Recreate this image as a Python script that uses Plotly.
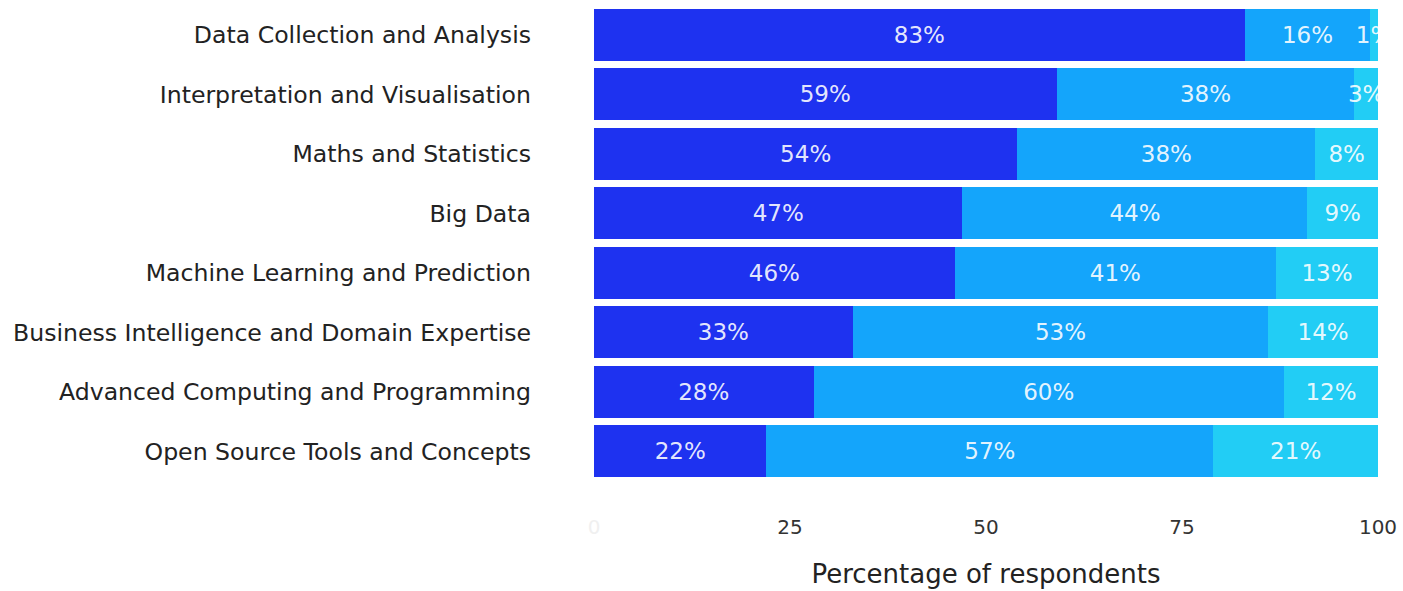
import plotly.graph_objects as go

categories = [
    "Data Collection and Analysis",
    "Interpretation and Visualisation",
    "Maths and Statistics",
    "Big Data",
    "Machine Learning and Prediction",
    "Business Intelligence and Domain Expertise",
    "Advanced Computing and Programming",
    "Open Source Tools and Concepts",
]
series_names = ["Very important", "Important", "Not important"]
high = [83, 59, 54, 47, 46, 33, 28, 22]
mid = [16, 38, 38, 44, 41, 53, 60, 57]
low = [1, 3, 8, 9, 13, 14, 12, 21]
colors = ["#1E32F0", "#14A5FB", "#22CDF5"]
tick_vals = [0, 25, 50, 75, 100]
tick_text = ["<span style='color:#f0f0f0'>0</span>", "25", "50", "75", "100"]

FONT = "DejaVu Sans"

fig = go.Figure()
for name, vals, col in zip(series_names, [high, mid, low], colors):
    fig.add_trace(go.Bar(
        y=categories, x=vals, name=name, orientation="h",
        marker=dict(color=col, line=dict(width=0)),
        text=[f"{v}%" for v in vals], textposition="inside", textangle=0,
        insidetextanchor="middle", constraintext="none",
        textfont=dict(color="rgba(255,255,255,0.9)", size=23, family=FONT),
        cliponaxis=True, hoverinfo="skip",
    ))

fig.update_layout(
    barmode="stack", bargap=0.12, showlegend=False,
    width=1403, height=591,
    margin=dict(l=594, r=25, t=5, b=110, autoexpand=False),
    plot_bgcolor="white", paper_bgcolor="white",
    font=dict(family=FONT, color="#333333", size=21),
    xaxis=dict(range=[0, 100], tickvals=tick_vals, ticktext=tick_text,
               showgrid=False, zeroline=False, showline=False, automargin=False,
               ticklabelstandoff=32, tickfont=dict(size=20, color="#333333"),
               title=dict(text="Percentage of respondents", standoff=26,
                          font=dict(size=26, color="#222222"))),
    yaxis=dict(autorange="reversed", showgrid=False, zeroline=False, showline=False,
               automargin=False,
               ticklabelstandoff=62, tickfont=dict(size=23.6, color="#222222")),
)
fig.write_html("out.html", config={"displayModeBar": False},
               post_script="document.body.style.margin='0';document.body.style.overflow='hidden';")
